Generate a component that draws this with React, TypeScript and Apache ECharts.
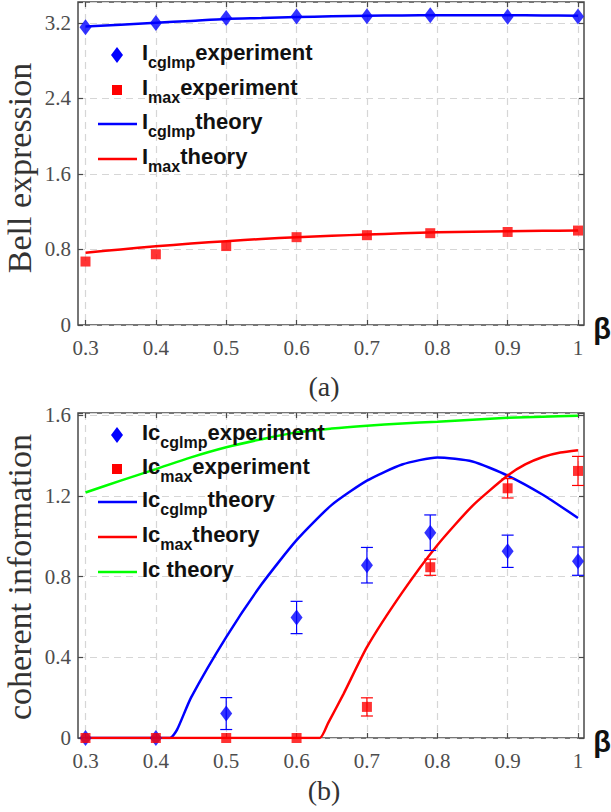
import React, { useEffect, useRef } from 'react';
import * as echarts from 'echarts';

// ---------- data ----------
const betaExp = [0.3, 0.4, 0.5, 0.6, 0.7, 0.79, 0.9, 1.0];
const bellCglmpExp = [3.153, 3.197, 3.25, 3.267, 3.27, 3.28, 3.263, 3.267];
const bellMaxExp = [0.672, 0.749, 0.836, 0.93, 0.951, 0.972, 0.985, 1.0];

const betaTheory = [0.3, 0.35, 0.4, 0.45, 0.5, 0.55, 0.6, 0.65, 0.7, 0.75, 0.8, 0.85, 0.9, 0.95, 1.0];
const bellCglmpTheory = [3.16, 3.18, 3.2, 3.22, 3.24, 3.25, 3.26, 3.268, 3.274, 3.278, 3.28, 3.281, 3.28, 3.278, 3.275];
const bellMaxTheory = [0.766, 0.8, 0.833, 0.862, 0.888, 0.91, 0.93, 0.945, 0.958, 0.971, 0.982, 0.988, 0.993, 0.997, 1.0];

const icTheory = [1.216, 1.275, 1.332, 1.39, 1.44, 1.48, 1.514, 1.533, 1.547, 1.558, 1.567, 1.577, 1.586, 1.592, 1.596];
const icCglmpBeta = [0.3, 0.35, 0.4, 0.42, 0.43, 0.45, 0.5, 0.55, 0.6, 0.65, 0.7, 0.75, 0.8, 0.85, 0.9, 0.95, 1.0];
const icCglmpTheory = [0, 0, 0, 0, 0.04, 0.2, 0.5, 0.76, 0.98, 1.155, 1.275, 1.355, 1.39, 1.37, 1.3, 1.205, 1.09];
const icMaxBeta = [0.3, 0.4, 0.5, 0.6, 0.633, 0.645, 0.667, 0.7, 0.75, 0.8, 0.85, 0.9, 0.925, 0.95, 0.975, 1.0];
const icMaxTheory = [0, 0, 0, 0, 0, 0.075, 0.22, 0.45, 0.72, 0.955, 1.15, 1.3, 1.355, 1.392, 1.414, 1.426];

const icCglmpExp = [0, 0, 0.121, 0.597, 0.856, 1.017, 0.925, 0.876];
const icCglmpErr = [0, 0, 0.079, 0.08, 0.088, 0.088, 0.08, 0.07];
const icMaxExp = [0, 0, 0, 0, 0.154, 0.846, 1.237, 1.323];
const icMaxErr = [0, 0, 0, 0, 0.045, 0.04, 0.048, 0.072];

const xTicks = ['0.3', '0.4', '0.5', '0.6', '0.7', '0.8', '0.9', '1'];
const topYTicks = ['0', '0.8', '1.6', '2.4', '3.2'];
const bottomYTicks = ['0', '0.4', '0.8', '1.2', '1.6'];

// ---------- styling ----------
const BLUE = '#0000ff';
const RED = '#ff0000';
const GREEN = '#00ff00';
const AXIS = '#4a4a4a';
const LABEL = '#4d4d4d';
const GRIDLINE = '#d6d6d6';
const SERIF = '"Liberation Serif", "Times New Roman", serif';
const SANS = '"Liberation Sans", Arial, sans-serif';

const zip = (xs: number[], ys: number[]) => xs.map((x, i) => [x, ys[i]]);
const zip3 = (xs: number[], ys: number[], es: number[]) =>
  xs.map((x, i) => [x, ys[i], es[i]]).filter((d) => d[2] > 0);

function fmtLabel(list: string[]) {
  return (v: number) => {
    const s = String(+v.toFixed(2));
    return list.indexOf(s) >= 0 ? s : '';
  };
}

function measure(text: string, font: string) {
  const c = document.createElement('canvas').getContext('2d');
  if (!c) return text.length * 10;
  c.font = font;
  return c.measureText(text).width;
}

type LegendEntry = { kind: string; color: string; main: string; sub: string; rest: string; y: number };

const topLegend: LegendEntry[] = [
  { kind: 'diamond', color: BLUE, main: 'I', sub: 'cglmp', rest: 'experiment', y: 52 },
  { kind: 'square', color: RED, main: 'I', sub: 'max', rest: 'experiment', y: 87 },
  { kind: 'line', color: BLUE, main: 'I', sub: 'cglmp', rest: 'theory', y: 121 },
  { kind: 'line', color: RED, main: 'I', sub: 'max', rest: 'theory', y: 156 },
];
const bottomLegend: LegendEntry[] = [
  { kind: 'diamond', color: BLUE, main: 'Ic', sub: 'cglmp', rest: 'experiment', y: 432 },
  { kind: 'square', color: RED, main: 'Ic', sub: 'max', rest: 'experiment', y: 466 },
  { kind: 'line', color: BLUE, main: 'Ic', sub: 'cglmp', rest: 'theory', y: 499 },
  { kind: 'line', color: RED, main: 'Ic', sub: 'max', rest: 'theory', y: 534 },
  { kind: 'line', color: GREEN, main: 'Ic theory', sub: '', rest: '', y: 569 },
];

function legendGraphics(entries: LegendEntry[]) {
  const out: any[] = [];
  const mainFont = `bold 22px ${SANS}`;
  const subFont = `bold 16px ${SANS}`;
  entries.forEach((e) => {
    const cy = e.y + 3;
    const cx = 117;
    if (e.kind === 'diamond') {
      out.push({ type: 'polygon', z: 100, shape: { points: [[cx, cy - 8], [cx + 6, cy], [cx, cy + 8], [cx - 6, cy]] }, style: { fill: e.color } });
    } else if (e.kind === 'square') {
      out.push({ type: 'rect', z: 100, shape: { x: cx - 5, y: cy - 5, width: 10, height: 10 }, style: { fill: e.color } });
    } else {
      out.push({ type: 'line', z: 100, shape: { x1: 98, y1: cy, x2: 137, y2: cy }, style: { stroke: e.color, lineWidth: 2.5 } });
    }
    let x = 142;
    out.push({ type: 'text', z: 100, x, y: e.y, style: { text: e.main, font: mainFont, fill: '#111', textVerticalAlign: 'middle' } });
    x += measure(e.main, mainFont);
    if (e.sub) {
      out.push({ type: 'text', z: 100, x, y: e.y + 10, style: { text: e.sub, font: subFont, fill: '#111', textVerticalAlign: 'middle' } });
      x += measure(e.sub, subFont);
    }
    if (e.rest) {
      out.push({ type: 'text', z: 100, x, y: e.y, style: { text: e.rest, font: mainFont, fill: '#111', textVerticalAlign: 'middle' } });
    }
  });
  return out;
}

function errorBarSeries(data: number[][], color: string, xi: number, yi: number) {
  return {
    type: 'custom',
    xAxisIndex: xi,
    yAxisIndex: yi,
    z: 3,
    clip: false,
    data,
    renderItem: (params: any, api: any) => {
      const x = api.value(0);
      const y = api.value(1);
      const e = api.value(2);
      const top = api.coord([x, y + e]);
      const bot = api.coord([x, y - e]);
      const cap = 6;
      const st = { stroke: color, lineWidth: 1.2 };
      return {
        type: 'group',
        children: [
          { type: 'line', shape: { x1: top[0], y1: top[1], x2: bot[0], y2: bot[1] }, style: st },
          { type: 'line', shape: { x1: top[0] - cap, y1: top[1], x2: top[0] + cap, y2: top[1] }, style: st },
          { type: 'line', shape: { x1: bot[0] - cap, y1: bot[1], x2: bot[0] + cap, y2: bot[1] }, style: st },
        ],
      };
    },
  };
}

function frameGrid(top: number, height: number) {
  return { left: 78, right: 27, top, height, show: true, borderColor: AXIS, borderWidth: 1.5, backgroundColor: 'transparent' };
}
function innerGrid(top: number, height: number) {
  return { left: 85.5, right: 33, top, height };
}

function dataXAxes(gridIndex: number) {
  return [
    {
      type: 'value', gridIndex, position: 'bottom', min: 0.3, max: 1.0, interval: 0.1,
      axisLine: { show: false },
      axisTick: { show: true, inside: true, length: 5, lineStyle: { color: AXIS, width: 1.2 } },
      axisLabel: { show: true, margin: 12, fontFamily: SERIF, fontSize: 21, color: LABEL, formatter: fmtLabel(xTicks) },
      splitLine: { show: true, lineStyle: { color: GRIDLINE, type: [7, 5], width: 1.2 } },
    },
    {
      type: 'value', gridIndex, position: 'top', min: 0.3, max: 1.0, interval: 0.1,
      axisLine: { show: false },
      axisTick: { show: true, inside: true, length: 5, lineStyle: { color: AXIS, width: 1.2 } },
      axisLabel: { show: false },
      splitLine: { show: false },
    },
  ];
}

function frameYAxes(gridIndex: number, max: number, interval: number, ticks: string[]) {
  return [
    {
      type: 'value', gridIndex, position: 'left', min: 0, max, interval,
      axisLine: { show: false },
      axisTick: { show: true, inside: true, length: 5, lineStyle: { color: AXIS, width: 1.2 } },
      axisLabel: { show: true, margin: 7, fontFamily: SERIF, fontSize: 21, color: LABEL, formatter: fmtLabel(ticks) },
      splitLine: { show: true, lineStyle: { color: GRIDLINE, type: [7, 5], width: 1.2 } },
    },
    {
      type: 'value', gridIndex, position: 'right', min: 0, max, interval,
      axisLine: { show: false },
      axisTick: { show: true, inside: true, length: 5, lineStyle: { color: AXIS, width: 1.2 } },
      axisLabel: { show: false },
      splitLine: { show: false },
    },
  ];
}

const TOP_MAX = 3.42;
const BOT_MAX = 1.61;

export default function App() {
  const ref = useRef<HTMLDivElement>(null);
  useEffect(() => {
    if (!ref.current) return;
    const chart = echarts.init(ref.current, null, { renderer: 'svg' });
    const lineStyle = (c: string) => ({ color: c, width: 2.5 });
    const theory = (xi: number, yi: number, data: number[][], c: string, sm: number) => ({
      type: 'line', xAxisIndex: xi, yAxisIndex: yi, data, smooth: sm,
      showSymbol: false, lineStyle: lineStyle(c), z: 2,
    });
    const option: any = {
      animation: false,
      backgroundColor: '#ffffff',
      grid: [frameGrid(2, 323), innerGrid(2, 323), frameGrid(413, 325), innerGrid(413, 325)],
      xAxis: [
        { type: 'value', gridIndex: 0, show: false, min: 0, max: 1 },
        ...dataXAxes(1),
        { type: 'value', gridIndex: 2, show: false, min: 0, max: 1 },
        ...dataXAxes(3),
      ],
      yAxis: [
        ...frameYAxes(0, TOP_MAX, 0.8, topYTicks),
        { type: 'value', gridIndex: 1, show: false, min: 0, max: TOP_MAX },
        ...frameYAxes(2, BOT_MAX, 0.4, bottomYTicks),
        { type: 'value', gridIndex: 3, show: false, min: 0, max: BOT_MAX },
      ],
      series: [
        // ----- panel (a)
        theory(1, 2, zip(betaTheory, bellCglmpTheory), BLUE, 0.3),
        theory(1, 2, zip(betaTheory, bellMaxTheory), RED, 0.3),
        { type: 'scatter', xAxisIndex: 1, yAxisIndex: 2, data: zip(betaExp, bellCglmpExp), symbol: 'diamond', symbolSize: [12, 16], itemStyle: { color: BLUE }, clip: false, z: 4 },
        { type: 'scatter', xAxisIndex: 1, yAxisIndex: 2, data: zip(betaExp, bellMaxExp), symbol: 'rect', symbolSize: 10, itemStyle: { color: RED }, clip: false, z: 5 },
        // ----- panel (b)
        theory(4, 5, zip(betaTheory, icTheory), GREEN, 0.3),
        theory(4, 5, zip(icCglmpBeta, icCglmpTheory), BLUE, 0.2),
        theory(4, 5, zip(icMaxBeta, icMaxTheory), RED, 0.2),
        errorBarSeries(zip3(betaExp, icCglmpExp, icCglmpErr), BLUE, 4, 5),
        errorBarSeries(zip3(betaExp, icMaxExp, icMaxErr), RED, 4, 5),
        { type: 'scatter', xAxisIndex: 4, yAxisIndex: 5, data: zip(betaExp, icCglmpExp), symbol: 'diamond', symbolSize: [12, 16], itemStyle: { color: BLUE }, clip: false, z: 4 },
        { type: 'scatter', xAxisIndex: 4, yAxisIndex: 5, data: zip(betaExp, icMaxExp), symbol: 'rect', symbolSize: 10, itemStyle: { color: RED }, clip: false, z: 5 },
      ],
      graphic: [
        ...legendGraphics(topLegend),
        ...legendGraphics(bottomLegend),
        { type: 'text', x: 19, y: 168, rotation: Math.PI / 2, style: { text: 'Bell expression', font: `34px ${SERIF}`, fill: '#333', textAlign: 'center', textVerticalAlign: 'middle' } },
        { type: 'text', x: 19, y: 577, rotation: Math.PI / 2, style: { text: 'coherent information', font: `34px ${SERIF}`, fill: '#333', textAlign: 'center', textVerticalAlign: 'middle' } },
        { type: 'text', x: 602, y: 329, style: { text: 'β', font: `bold 29px ${SANS}`, fill: '#111', textAlign: 'center', textVerticalAlign: 'middle' } },
        { type: 'text', x: 602, y: 742, style: { text: 'β', font: `bold 29px ${SANS}`, fill: '#111', textAlign: 'center', textVerticalAlign: 'middle' } },
        { type: 'text', x: 324, y: 386, style: { text: '(a)', font: `28px ${SERIF}`, fill: '#333', textAlign: 'center', textVerticalAlign: 'middle' } },
        { type: 'text', x: 324, y: 790, style: { text: '(b)', font: `28px ${SERIF}`, fill: '#333', textAlign: 'center', textVerticalAlign: 'middle' } },
      ],
    };
    chart.setOption(option);
    return () => chart.dispose();
  }, []);
  return <div ref={ref} style={{ position: 'absolute', left: 0, top: 0, width: 611, height: 812, background: '#fff' }} />;
}
